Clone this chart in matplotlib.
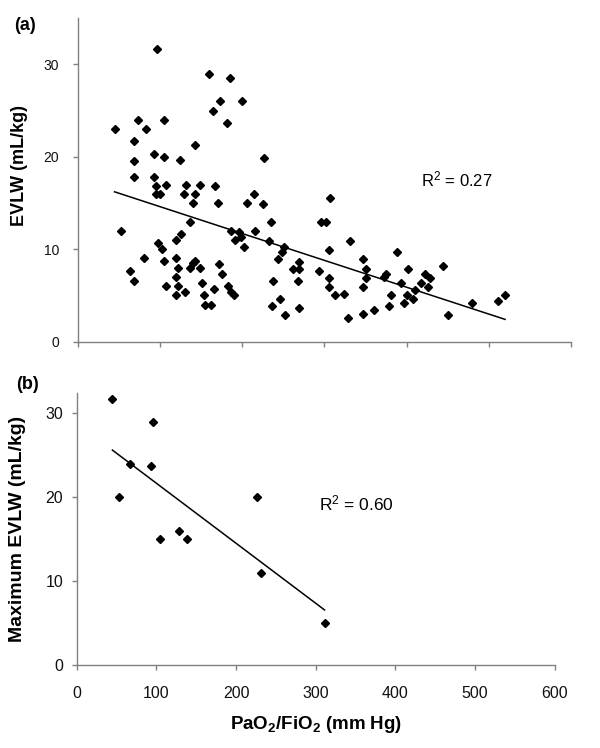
import numpy as np
import matplotlib
matplotlib.use('Agg')
import matplotlib.pyplot as plt

plt.rcParams['font.family'] = ['Liberation Sans', 'DejaVu Sans']
plt.rcParams['mathtext.fontset'] = 'custom'
plt.rcParams['mathtext.rm'] = 'Liberation Sans'
plt.rcParams['mathtext.bf'] = 'Liberation Sans:bold'
plt.rcParams['mathtext.default'] = 'regular'

# (a) all measurements: PaO2/FiO2 vs EVLW
pf_all = [96.6, 160.2, 185.0, 173.6, 200.0, 164.7, 181.3, 45.0, 73.0, 104.7,
          82.8, 68.2, 142.8, 92.5, 104.7, 124.1, 68.2, 68.2, 93.3, 94.9,
          107.9, 132.3, 148.5, 167.1,
          94.9, 99.8, 129.0, 142.8, 140.0, 170.8, 214.2, 206.1, 52.7, 137.1,
          187.0, 196.0, 191.9, 199.2, 202.8, 215.4, 98.2, 102.2, 125.8, 119.7,
          80.3, 104.7, 119.7, 121.7, 136.7, 140.0, 142.8, 148.5, 172.4, 64.1,
          68.2, 119.7, 175.3, 107.1, 121.7, 131.0, 119.7, 151.7, 165.5, 153.3,
          182.6, 186.6, 189.9, 154.6, 161.9,
          227.1, 225.1, 307.3, 235.2, 295.5, 302.4, 232.4, 331.6, 305.7, 250.6,
          248.2, 244.1, 261.9, 269.2, 269.2, 268.0, 238.0, 293.9, 305.7, 305.7,
          312.6, 324.3, 236.4, 246.2, 251.8, 269.2, 346.6, 350.6, 350.6, 347.4,
          328.7, 347.4, 360.3, 372.5, 374.9, 388.3, 380.6, 379.0, 393.1, 402.4,
          400.4, 396.8, 407.3, 410.1, 417.8, 422.3, 428.7, 425.9, 444.9, 450.6,
          480.2, 511.7, 519.8]
evlw_all = [31.7, 29.0, 28.5, 26.0, 26.0, 25.0, 23.7, 23.0, 24.0, 24.0,
            23.0, 21.7, 21.3, 20.3, 20.0, 19.7, 19.5, 17.8, 17.8, 16.8,
            17.0, 17.0, 17.0, 16.8,
            16.0, 16.0, 16.0, 16.0, 15.0, 15.0, 16.0, 15.0, 12.0, 13.0,
            12.0, 11.9, 11.0, 11.3, 10.3, 12.0, 10.7, 10.0, 11.6, 11.0,
            9.1, 8.7, 9.1, 8.0, 8.0, 8.5, 8.7, 8.0, 8.4, 7.7,
            6.6, 7.0, 7.3, 6.0, 6.0, 5.4, 5.1, 6.3, 5.7, 5.1,
            6.0, 5.4, 5.1, 4.0, 4.0,
            19.9, 14.9, 15.6, 12.9, 12.9, 12.9, 10.9, 10.9, 9.9, 10.3,
            9.7, 8.9, 7.9, 7.9, 8.6, 6.6, 6.6, 7.6, 6.9, 5.9,
            5.0, 5.2, 3.9, 4.6, 2.9, 3.6, 8.9, 7.9, 6.9, 5.9,
            2.6, 3.0, 3.4, 7.0, 7.3, 9.7, 5.0, 3.9, 6.4, 7.9,
            5.0, 4.2, 4.6, 5.6, 6.4, 7.3, 6.9, 5.9, 8.2, 2.9,
            4.2, 4.4, 5.0]

# (b) maximum EVLW per patient
pf_max = [44.8, 96.3, 66.4, 92.9, 52.5, 226.0, 105.0, 128.6, 139.0, 231.0, 311.0]
evlw_max = [31.7, 29.0, 24.0, 23.7, 20.0, 20.0, 15.0, 16.0, 15.0, 11.0, 5.0]

r2_text = ['R$^2$ = 0.27', 'R$^2$ = 0.60']
x_ticks = [0, 100, 200, 300, 400, 500, 600]
y_ticks = [0, 10, 20, 30]

GRAY = '#808080'


def style_axes(ax, lab_size, ypad, xpad):
    for side in ['top', 'right']:
        ax.spines[side].set_visible(False)
    for side in ['left', 'bottom']:
        ax.spines[side].set_color(GRAY)
        ax.spines[side].set_linewidth(1.0)
    ax.tick_params(axis='both', direction='out', length=3.6, width=1.0,
                   color=GRAY, labelsize=lab_size, labelcolor='#111111')
    ax.tick_params(axis='y', pad=ypad)
    ax.tick_params(axis='x', pad=xpad)
    ax.set_xticks(x_ticks)
    ax.set_yticks(y_ticks)
    ax.set_xlim(0, 600)


def trend(ax, x, y):
    x = np.asarray(x)
    k, m = np.polyfit(x, y, 1)
    xs = np.array([x.min(), x.max()])
    ax.plot(xs, k * xs + m, color='black', lw=1.1)


def main():
    fig = plt.figure(figsize=(6.0, 7.48), dpi=100)

    ax1 = fig.add_axes([0.1292, 0.5432, 0.8225, 0.4324])
    ax1.plot(pf_all, evlw_all, 'D', color='black', ms=4.0, mec='black')
    trend(ax1, pf_all, evlw_all)
    style_axes(ax1, 10, 9.5, 4)
    ax1.set_ylim(0, 35)
    ax1.set_xticklabels([])
    ax1.set_ylabel('EVLW (mL/kg)', fontsize=13, fontweight='bold')
    ax1.yaxis.set_label_coords(-0.0997, 0.546)
    ax1.text(417, 17.6, r2_text[0], fontsize=12, va='center', ha='left')

    ax2 = fig.add_axes([0.1278, 0.1106, 0.797, 0.3636])
    ax2.plot(pf_max, evlw_max, 'D', color='black', ms=4.3, mec='black')
    trend(ax2, pf_max, evlw_max)
    style_axes(ax2, 11.5, 6, 11)
    ax2.set_ylim(0, 32.4)
    ax2.set_ylabel('Maximum EVLW (mL/kg)', fontsize=14, fontweight='bold')
    ax2.yaxis.set_label_coords(-0.105, 0.5)
    ax2.set_xlabel(r'PaO$_\mathbf{2}$/FiO$_\mathbf{2}$ (mm Hg)', fontsize=13.5,
                   fontweight='bold', labelpad=10)
    ax2.text(303.5, 19.3, r2_text[1], fontsize=12.5, va='center', ha='left')

    fig.text(25 / 600, 1 - 26 / 748, '(a)', fontsize=13, fontweight='bold',
             ha='center', va='center')
    fig.text(27.5 / 600, 1 - 385 / 748, '(b)', fontsize=13, fontweight='bold',
             ha='center', va='center')

    fig.savefig('out.png', dpi=100)


if __name__ == "__main__":
    main()
